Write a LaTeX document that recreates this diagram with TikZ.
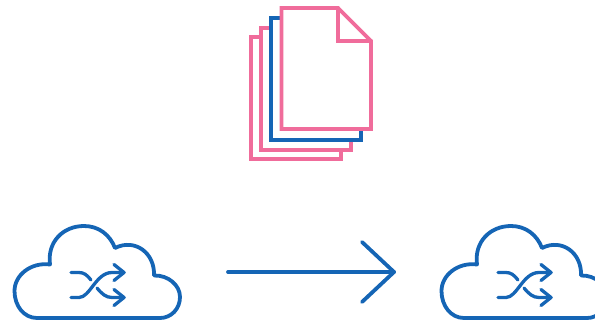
\documentclass[tikz,border=0pt]{standalone}
\usepackage{xcolor}
\definecolor{cloudblue}{HTML}{1565B5}
\definecolor{sheetpink}{HTML}{F06C9B}
\tikzset{
  outline/.style={line width=3.8pt, line join=round, line cap=round},
  sheet/.style={rectangle, draw=sheetpink, fill=white, line width=4pt, inner sep=0pt},
  pics/shufflecloud/.style={code={
    % cloud outline
    \draw[outline, cloudblue]
      (37,318) .. controls (24,318) and (14.5,306) .. (14.5,291)
      .. controls (14.5,275) and (31,262) .. (50,264.5)
      .. controls (47,242) and (63,226) .. (84,226)
      .. controls (99,226) and (110,235) .. (115,248)
      .. controls (135,238) and (155,253) .. (154,275.5)
      .. controls (168,275) and (180,285) .. (180,297)
      .. controls (180,309) and (171,318) .. (160,318)
      -- cycle;
    % shuffle arrows
    \draw[outline, cloudblue, line width=3.3pt]
      (71,272.5) -- (79,272.5) .. controls (84,272.5) and (87,275) .. (91,280);
    \draw[outline, cloudblue, line width=3.3pt]
      (97,288) .. controls (102,294) and (106,297.5) .. (112,297.5) -- (124,297.5);
    \draw[outline, cloudblue, line width=3.3pt]
      (71,297.5) -- (79,297.5) .. controls (90,297.5) and (96,272.5) .. (112,272.5) -- (124,272.5);
    \draw[outline, cloudblue, line width=3.3pt] (114,264.5) -- (124,272.5) -- (114,280.5);
    \draw[outline, cloudblue, line width=3.3pt] (114,289.5) -- (124,297.5) -- (114,305.5);
  }}
}
\begin{document}
\begin{tikzpicture}[x=1pt, y=-1pt]
\useasboundingbox (0,0) rectangle (595,324);

% stack of sheets
\node[sheet, minimum width=90pt, minimum height=122pt] (sheetd) at (295.5,98.3) {};
\node[sheet, minimum width=90pt, minimum height=122pt] (sheetc) at (305.5,89.3) {};
\node[sheet, draw=cloudblue, minimum width=90pt, minimum height=122pt] (sheetb) at (315.5,79) {};
\fill[white] (281.5,8) rectangle (371,129);
\draw[outline, sheetpink, line join=miter]
  (281.5,8) -- (338,8) -- (371,41) -- (371,129) -- (281.5,129) -- cycle;
\draw[outline, sheetpink, line join=miter] (338,8) -- (338,41) -- (371,41);

% clouds
\pic (cloudl) at (0,0) {shufflecloud};
\pic (cloudr) at (427,0) {shufflecloud};

% big arrow
\coordinate (arrowstart) at (228,272);
\coordinate (arrowtip) at (394,272);
\coordinate (barbup) at (362,242);
\coordinate (barbdown) at (362,302);
\draw[outline, cloudblue] (arrowstart) -- (arrowtip);
\draw[outline, cloudblue] (barbup) -- (arrowtip) -- (barbdown);
\end{tikzpicture}
\end{document}
